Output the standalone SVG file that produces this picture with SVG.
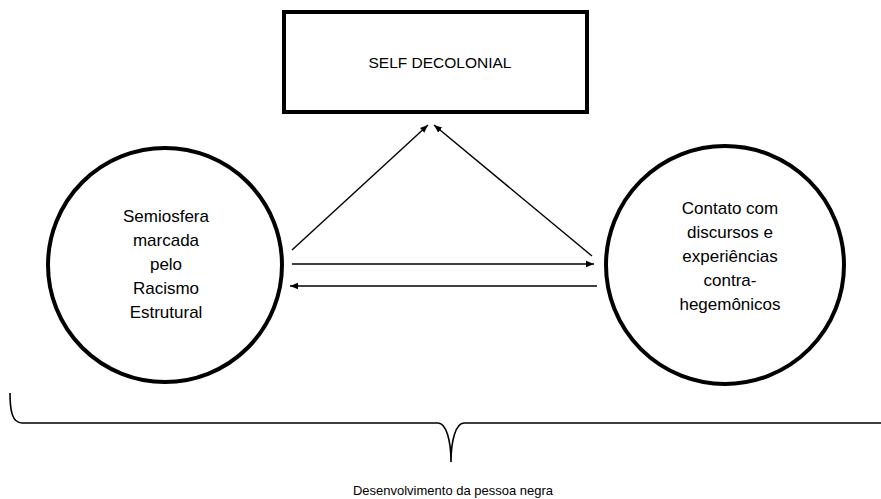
<svg xmlns="http://www.w3.org/2000/svg" width="881" height="499" viewBox="0 0 881 499">
<style>
text{font-family:"Liberation Sans",Arial,sans-serif;fill:#000;text-anchor:middle}
.node{fill:#fff;stroke:#000;stroke-width:4}
.lbl{font-size:17px}
.edge{stroke:#000;stroke-width:1.4;fill:none;marker-end:url(#ah)}
</style>
<defs>
<marker id="ah" viewBox="0 0 10 10" refX="10" refY="5" markerWidth="8" markerHeight="8" markerUnits="userSpaceOnUse" orient="auto">
<path d="M0,1 L10,5 L0,9 Z" fill="#000"/>
</marker>
</defs>
<rect width="881" height="499" fill="#fff"/>
<g id="self">
<rect class="node" x="284" y="12" width="303" height="100"/>
<text x="440" y="68" font-size="15.5">SELF DECOLONIAL</text>
</g>
<g id="semiosfera">
<circle class="node" cx="165" cy="265" r="117"/>
<text class="lbl" x="166" y="222">Semiosfera</text>
<text class="lbl" x="166" y="246">marcada</text>
<text class="lbl" x="166" y="270">pelo</text>
<text class="lbl" x="166" y="294">Racismo</text>
<text class="lbl" x="166" y="318">Estrutural</text>
</g>
<g id="contato">
<circle class="node" cx="725" cy="265" r="119"/>
<text class="lbl" x="730" y="214">Contato com</text>
<text class="lbl" x="730" y="238">discursos e</text>
<text class="lbl" x="730" y="262">experiências</text>
<text class="lbl" x="730" y="286">contra-</text>
<text class="lbl" x="730" y="310">hegemônicos</text>
</g>
<g id="connectors">
<line class="edge" x1="292" y1="250" x2="428" y2="125"/>
<line class="edge" x1="592" y1="256" x2="434" y2="125"/>
<line class="edge" x1="292" y1="264" x2="594" y2="264"/>
<line class="edge" x1="597" y1="286" x2="290" y2="286"/>
</g>
<g id="brace">
<path d="M10,393 C10,410 12,423 22,423 L438,423 C446,423 451,440 451,462 C451,440 456,423 464,423 L881,423" fill="none" stroke="#000" stroke-width="1.6"/>
<text x="453" y="495" font-size="13">Desenvolvimento da pessoa negra</text>
</g>
</svg>
